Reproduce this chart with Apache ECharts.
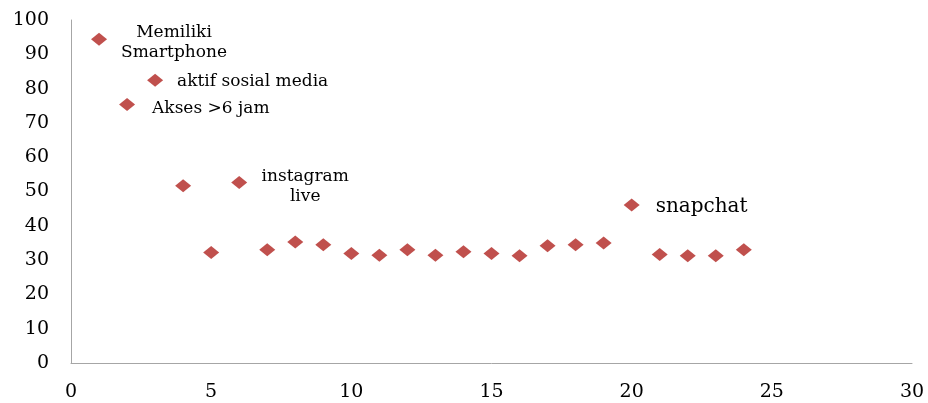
<!DOCTYPE html>
<html>
<head>
<meta charset="utf-8">
<script src="https://cdn.jsdelivr.net/npm/echarts@6/dist/echarts.min.js"></script>
<style>
html,body{margin:0;padding:0;background:#fff;}
#main{width:928px;height:403px;}
</style>
</head>
<body>
<div id="main"></div>
<script>
// nomor item (x) dan persentase (y)
var xValues = [1,2,3,4,5,6,7,8,9,10,11,12,13,14,15,16,17,18,19,20,21,22,23,24];
var yValues = [94.4,75.4,82.4,51.7,32.2,52.6,33.0,35.3,34.5,31.9,31.4,33.0,31.4,32.4,31.9,31.3,34.2,34.5,35.0,46.1,31.6,31.3,31.3,33.0];
// keterangan untuk beberapa titik
var pointNotes = {1:'Memiliki\nSmartphone', 2:'Akses >6 jam', 3:'aktif sosial media', 6:'instagram\nlive', 20:'snapchat'};

var myChart = echarts.init(document.getElementById('main'));

var noteStyle = {
	1:{offset:[57,3], align:'center', fontSize:17},
	2:{offset:[7,4], align:'left', fontSize:17},
	3:{offset:[4,1], align:'left', fontSize:17},
	6:{offset:[48,4], align:'center', fontSize:17},
	20:{offset:[6,2], align:'left', fontSize:20}
};

var data = [];
for(var i = 0;i<xValues.length;i++){
	var item = {value:[xValues[i], yValues[i]]};
	var x = xValues[i];
	if(pointNotes[x]){
		item.label = {
			show:true,
			position:'right',
			distance:10,
			formatter:pointNotes[x],
			align:noteStyle[x].align,
			offset:noteStyle[x].offset,
			fontSize:noteStyle[x].fontSize,
			lineHeight:20,
			color:'#000',
			fontFamily:'DejaVu Serif'
		};
	}
	data.push(item);
}

var option = {
	animation:false,
	grid:{left:71, right:16, top:20, bottom:40},
	xAxis:{
		type:'value',
		min:0, max:30, interval:5,
		axisLine:{show:true, lineStyle:{color:'#a6a6a6', width:1}},
		axisTick:{show:false},
		splitLine:{show:false},
		axisLabel:{color:'#000', fontSize:19, fontFamily:'DejaVu Serif', margin:20}
	},
	yAxis:{
		type:'value',
		min:0, max:100, interval:10,
		axisLine:{show:true, lineStyle:{color:'#a6a6a6', width:1}},
		axisTick:{show:false},
		splitLine:{show:false},
		axisLabel:{color:'#000', fontSize:19, fontFamily:'DejaVu Serif', margin:22}
	},
	series:[{
		type:'scatter',
		symbol:'diamond',
		symbolSize:[16,13],
		itemStyle:{color:'#c0504d', opacity:1},
		data:data
	}]
};
myChart.setOption(option);
</script>
</body>
</html>
